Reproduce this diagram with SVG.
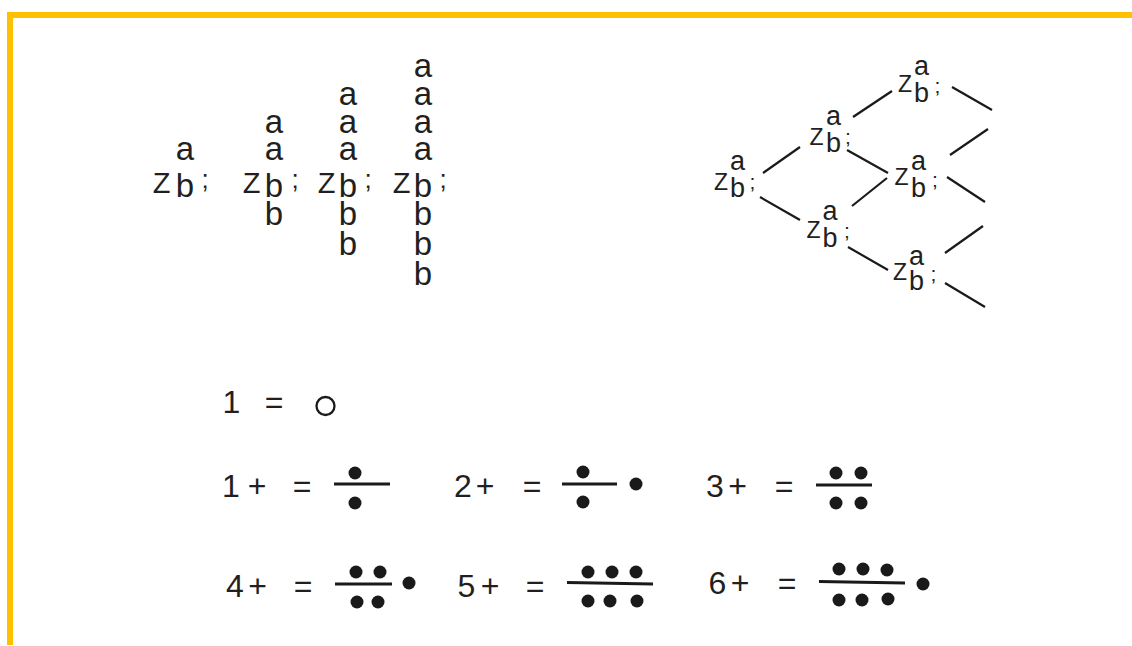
<svg xmlns="http://www.w3.org/2000/svg" width="1132" height="646" viewBox="0 0 1132 646">
<style>
  .t{font-family:"Liberation Sans","DejaVu Sans",sans-serif;fill:#231f20;text-anchor:middle}
  .zL{font-size:29px}
  .lL{font-size:33px}
  .sL{font-size:26px}
  .zT{font-size:23px}
  .lT{font-size:27px}
  .sT{font-size:21px}
  .eq{font-size:32px}
  .ln{stroke:#1a1a1a;stroke-width:2.2;fill:none;stroke-linecap:butt}
  .bar{stroke:#1a1a1a;stroke-width:3;fill:none}
  .dot{fill:#1a1a1a}
  .border{fill:#ffc000}
</style>
<rect width="1132" height="646" fill="#ffffff"/>
<rect class="border" x="7" y="12" width="1125" height="6"/>
<rect class="border" x="7" y="12" width="6" height="633"/>

<g id="col1">
  <text class="t zL" x="161.5" y="193">Z</text>
  <text class="t lL" x="185" y="160">a</text>
  <text class="t lL" x="185" y="197">b</text>
  <text class="t sL" x="205" y="188">;</text>
</g>
<g id="col2">
  <text class="t zL" x="251.5" y="193">Z</text>
  <text class="t lL" x="274" y="133">a</text>
  <text class="t lL" x="274" y="160">a</text>
  <text class="t lL" x="274" y="197">b</text>
  <text class="t lL" x="274" y="225">b</text>
  <text class="t sL" x="295" y="188">;</text>
</g>
<g id="col3">
  <text class="t zL" x="326.5" y="193">Z</text>
  <text class="t lL" x="348" y="105">a</text>
  <text class="t lL" x="348" y="133">a</text>
  <text class="t lL" x="348" y="160">a</text>
  <text class="t lL" x="348" y="197">b</text>
  <text class="t lL" x="348" y="225">b</text>
  <text class="t lL" x="348" y="255">b</text>
  <text class="t sL" x="368" y="188">;</text>
</g>
<g id="col4">
  <text class="t zL" x="401.5" y="193">Z</text>
  <text class="t lL" x="423" y="77">a</text>
  <text class="t lL" x="423" y="105">a</text>
  <text class="t lL" x="423" y="133">a</text>
  <text class="t lL" x="423" y="160">a</text>
  <text class="t lL" x="423" y="197">b</text>
  <text class="t lL" x="423" y="225">b</text>
  <text class="t lL" x="423" y="255">b</text>
  <text class="t lL" x="423" y="285">b</text>
  <text class="t sL" x="443" y="188">;</text>
</g>

<g id="connectors">
  <line class="ln" x1="763" y1="173" x2="800" y2="147"/>
  <line class="ln" x1="760" y1="197" x2="800" y2="220"/>
  <line class="ln" x1="853" y1="117" x2="892" y2="91"/>
  <line class="ln" x1="847" y1="150" x2="888" y2="173"/>
  <line class="ln" x1="852" y1="206" x2="887" y2="178"/>
  <line class="ln" x1="848" y1="247" x2="888" y2="270"/>
  <line class="ln" x1="952" y1="87" x2="992" y2="110"/>
  <line class="ln" x1="950" y1="155" x2="988" y2="129"/>
  <line class="ln" x1="947" y1="177" x2="985" y2="202"/>
  <line class="ln" x1="945" y1="253" x2="983" y2="226"/>
  <line class="ln" x1="945" y1="283" x2="985" y2="307"/>
</g>

<g id="tree1">
  <text class="t zT" x="721" y="190">Z</text>
  <text class="t lT" x="737.5" y="170">a</text>
  <text class="t lT" x="737.5" y="197">b</text>
  <text class="t sT" x="752.5" y="189">;</text>
</g>
<g id="tree2">
  <text class="t zT" x="816.5" y="145">Z</text>
  <text class="t lT" x="833.5" y="125">a</text>
  <text class="t lT" x="833.5" y="152">b</text>
  <text class="t sT" x="848" y="144">;</text>
</g>
<g id="tree3">
  <text class="t zT" x="905" y="92">Z</text>
  <text class="t lT" x="921.5" y="75">a</text>
  <text class="t lT" x="921.5" y="102">b</text>
  <text class="t sT" x="937.5" y="93">;</text>
</g>
<g id="tree4">
  <text class="t zT" x="901.5" y="185">Z</text>
  <text class="t lT" x="918.5" y="170">a</text>
  <text class="t lT" x="918.5" y="197">b</text>
  <text class="t sT" x="935" y="187">;</text>
</g>
<g id="tree5">
  <text class="t zT" x="813.5" y="238">Z</text>
  <text class="t lT" x="830" y="220">a</text>
  <text class="t lT" x="830" y="247">b</text>
  <text class="t sT" x="847" y="238">;</text>
</g>
<g id="tree6">
  <text class="t zT" x="900" y="280">Z</text>
  <text class="t lT" x="916.5" y="265">a</text>
  <text class="t lT" x="916.5" y="290">b</text>
  <text class="t sT" x="933.5" y="281">;</text>
</g>

<g id="eq1">
  <text class="t eq" x="231.5 274" y="413">1=</text>
  <circle cx="325.5" cy="406" r="9" fill="none" stroke="#1a1a1a" stroke-width="2.3"/>
</g>
<g id="eq1plus">
  <text class="t eq" x="231 257 302" y="497">1+=</text>
  <line class="bar" x1="334" y1="484" x2="390" y2="484"/>
  <circle class="dot" cx="355" cy="473" r="6.5"/>
  <circle class="dot" cx="355" cy="503" r="6.5"/>
</g>
<g id="eq2plus">
  <text class="t eq" x="463 485 532" y="497">2+=</text>
  <line class="bar" x1="562" y1="484" x2="617" y2="484"/>
  <circle class="dot" cx="583" cy="472" r="6.5"/>
  <circle class="dot" cx="583" cy="502" r="6.5"/>
  <circle class="dot" cx="636" cy="484" r="6.5"/>
</g>
<g id="eq3plus">
  <text class="t eq" x="715 737.5 784" y="497">3+=</text>
  <line class="bar" x1="816" y1="485" x2="872" y2="485"/>
  <circle class="dot" cx="836" cy="473" r="6.5"/>
  <circle class="dot" cx="861" cy="473" r="6.5"/>
  <circle class="dot" cx="836" cy="503" r="6.5"/>
  <circle class="dot" cx="861" cy="503" r="6.5"/>
</g>
<g id="eq4plus">
  <text class="t eq" x="235 257.5 303" y="597">4+=</text>
  <line class="bar" x1="335" y1="584" x2="392" y2="584"/>
  <circle class="dot" cx="356" cy="572" r="6.5"/>
  <circle class="dot" cx="380" cy="572" r="6.5"/>
  <circle class="dot" cx="357" cy="602" r="6.5"/>
  <circle class="dot" cx="378" cy="602" r="6.5"/>
  <circle class="dot" cx="409" cy="583" r="6.5"/>
</g>
<g id="eq5plus">
  <text class="t eq" x="466.5 490 535" y="597">5+=</text>
  <line class="bar" x1="567" y1="582.5" x2="653" y2="584"/>
  <circle class="dot" cx="588" cy="572" r="6.5"/>
  <circle class="dot" cx="612" cy="572" r="6.5"/>
  <circle class="dot" cx="636" cy="572" r="6.5"/>
  <circle class="dot" cx="588" cy="601" r="6.5"/>
  <circle class="dot" cx="610" cy="601" r="6.5"/>
  <circle class="dot" cx="637" cy="601" r="6.5"/>
</g>
<g id="eq6plus">
  <text class="t eq" x="717.5 740 787" y="594">6+=</text>
  <line class="bar" x1="819" y1="581.5" x2="905" y2="583"/>
  <circle class="dot" cx="839" cy="569" r="6.5"/>
  <circle class="dot" cx="863" cy="569" r="6.5"/>
  <circle class="dot" cx="887" cy="570" r="6.5"/>
  <circle class="dot" cx="839" cy="600" r="6.5"/>
  <circle class="dot" cx="862" cy="600" r="6.5"/>
  <circle class="dot" cx="888" cy="599" r="6.5"/>
  <circle class="dot" cx="923" cy="584" r="6.5"/>
</g>
</svg>
